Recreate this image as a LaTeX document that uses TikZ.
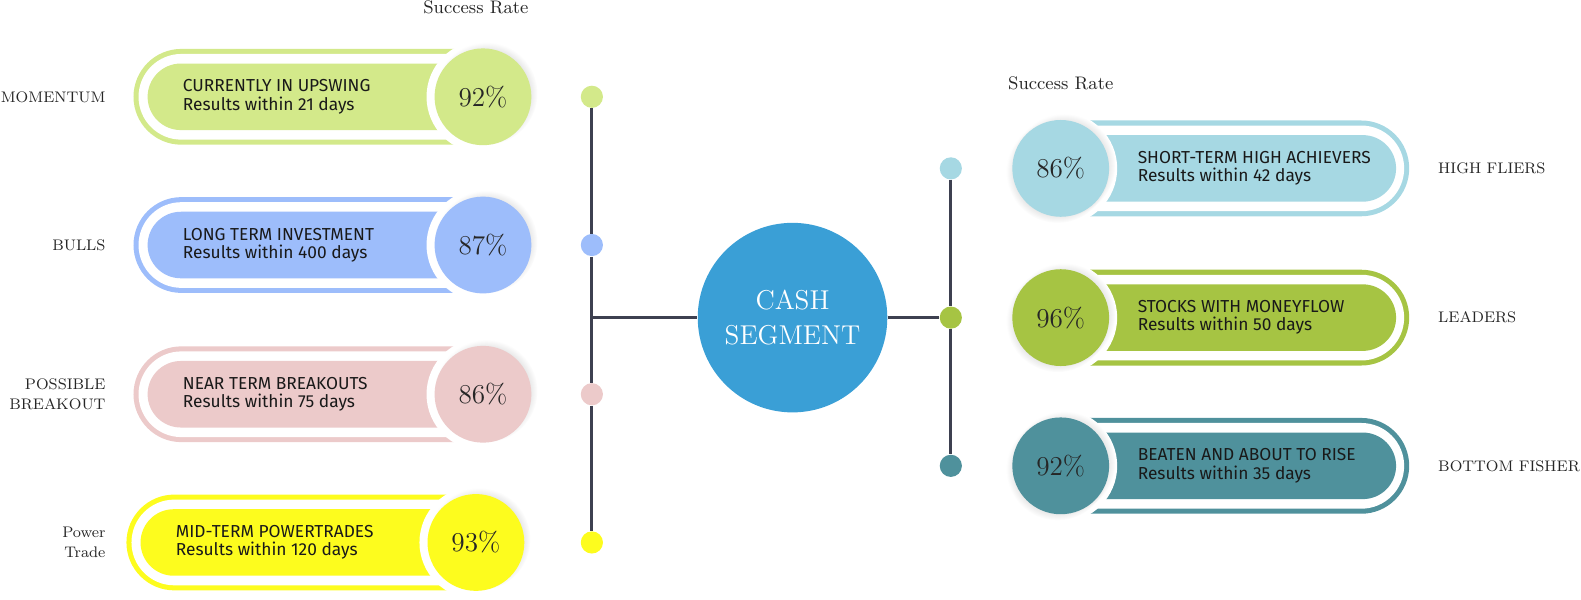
\documentclass[tikz,border=0pt]{standalone}
\usepackage{fontspec}
\newfontfamily\cardfont{Fira Sans}
\usetikzlibrary{shapes.misc,shadows}
\definecolor{cmom}{HTML}{D3E98A}
\definecolor{cbull}{HTML}{9DBDFB}
\definecolor{cbrk}{HTML}{ECCACA}
\definecolor{cpow}{HTML}{FDFC1E}
\definecolor{chigh}{HTML}{A6D8E3}
\definecolor{clead}{HTML}{A6C443}
\definecolor{cbot}{HTML}{4F919C}
\definecolor{ccash}{HTML}{3A9FD6}
\definecolor{cline}{HTML}{3D4050}
\newcommand{\ttl}{\cardfont\fontsize{8.6}{9}\selectfont}
\newcommand{\pct}{\fontsize{13.5}{15}\selectfont}

\begin{document}
\begin{tikzpicture}[
  x=0.5pt, y=-0.5pt,
  ring/.style  = {shape=rounded rectangle, inner sep=0pt, minimum height=47.5pt},
  lring/.style = {ring, rounded rectangle right arc=none, anchor=west},
  rring/.style = {ring, rounded rectangle left arc=none, anchor=east},
  halo/.style  = {circle, fill=white, inner sep=0pt, minimum size=56pt},
  pc/.style    = {circle, inner sep=0pt, minimum size=48pt, text=black!85, font=\pct,
                  circular drop shadow={shadow xshift=1.5pt, shadow yshift=1.5pt, shadow scale=1.06, opacity=0.18}},
  rpc/.style   = {pc, circular drop shadow={shadow xshift=-1.5pt, shadow yshift=-1.5pt, shadow scale=1.06, opacity=0.18}},
  txt/.style   = {align=left, anchor=west, inner sep=0pt, font=\ttl, text=black!90},
  lbl/.style   = {inner sep=0pt, font=\fontsize{7.6}{10}\selectfont, text=black!85},
  dot/.style   = {circle, inner sep=0pt, minimum size=11pt},
  spine/.style = {draw=cline, line width=1.5pt}
]
\useasboundingbox (0,0) rectangle (1568,595);

% ---------- left cards ------------------------------------------------
\foreach \n/\y/\cx/\L/\col/\val/\tA/\tB/\lab in {
    1/96/479/132/cmom/92/CURRENTLY IN UPSWING/21/MOMENTUM,
    2/243/479/132/cbull/87/LONG TERM INVESTMENT/400/BULLS,
    3/391/479/132/cbrk/86/NEAR TERM BREAKOUTS/75/{POSSIBLE\\BREAKOUT},
    4/538/472/125/cpow/93/MID-TERM POWERTRADES/120/{Power\\Trade}}{
  \node[lring, fill=\col, minimum width=178.5pt] (o\n) at (\L,\y) {};
  \node[lring, fill=white, minimum width=176pt, minimum height=42.5pt] (w\n) at (\L+5,\y) {};
  \node[lring, fill=\col, minimum width=171.5pt, minimum height=33pt] (i\n) at (\L+14,\y) {};
  \node[halo] (h\n) at (\cx,\y) {};
  \node[pc, fill=\col] (c\n) at (\cx,\y) {\val\%};
  \node[txt] (t\n) at (\L+49,\y) {\tA\\Results within \tB\ days};
  \node[lbl, align=right, anchor=east] (l\n) at (105,\y) {\lab};
  \node[dot, fill=\col] (d\n) at (587,\y) {};
}

\node[lbl, font=\fontsize{9}{11}\selectfont] (sl) at (472,7) {Success Rate};

% ---------- right cards -----------------------------------------------
\foreach \n/\y/\col/\val/\tA/\tB/\lab in {
    1/167/chigh/86/SHORT-TERM HIGH ACHIEVERS/42/HIGH FLIERS,
    2/315/clead/96/STOCKS WITH MONEYFLOW/50/LEADERS,
    3/462/cbot/92/BEATEN AND ABOUT TO RISE/35/BOTTOM FISHER}{
  \node[rring, fill=\col, minimum width=178pt] (ro\n) at (1398,\y) {};
  \node[rring, fill=white, minimum width=175.5pt, minimum height=42.5pt] (rw\n) at (1393,\y) {};
  \node[rring, fill=\col, minimum width=171pt, minimum height=33pt] (ri\n) at (1385,\y) {};
  \node[halo] (rh\n) at (1052,\y) {};
  \node[rpc, fill=\col] (rc\n) at (1052,\y) {\val\%};
  \node[txt] (rt\n) at (1128,\y) {\tA\\Results within \tB\ days};
  \node[lbl, anchor=west] (rl\n) at (1426,\y) {\lab};
  \node[dot, fill=\col] (rd\n) at (943,\y) {};
}

\node[lbl, font=\fontsize{9}{11}\selectfont] (sr) at (1052,83) {Success Rate};

% ---------- hub ---------------------------------------------------------
\node[circle, fill=ccash, inner sep=0pt, minimum size=94pt, text=white, align=center,
      font=\fontsize{13.5}{17}\selectfont] (cash) at (786,315) {CASH\\SEGMENT};

% ---------- connectors --------------------------------------------------
\coordinate (bus) at (587,315);
\foreach \a/\b in {d1/d2, d2/d3, d3/d4, rd1/rd2, rd2/rd3}{
  \draw[spine] (\a.south) -- (\b.north);}
\draw[spine] (bus) -- (cash.west);
\draw[spine] (cash.east) -- (rd2.west);

\end{tikzpicture}
\end{document}
